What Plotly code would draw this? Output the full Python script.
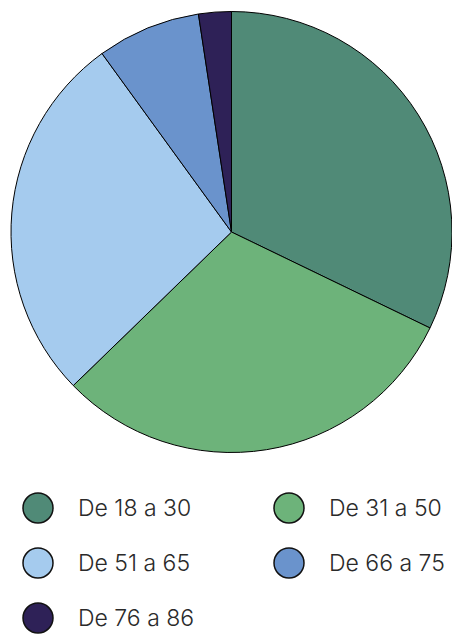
import plotly.graph_objects as go

labels = ["De 18 a 30", "De 31 a 50", "De 51 a 65", "De 66 a 75", "De 76 a 86"]
values = [32.2, 30.6, 27.3, 7.6, 2.4]
colors = ["#508a77", "#6db37a", "#a5cbee", "#6a93cc", "#2e2157"]

W, H = 452, 634

fig = go.Figure()
fig.add_trace(go.Pie(
    labels=labels, values=values, sort=False, direction="clockwise", rotation=0,
    marker=dict(colors=colors, line=dict(color="#000000", width=1)),
    textinfo="none", hoverinfo="label+percent", showlegend=False,
    domain=dict(x=[11 / W, 1.0], y=[1 - 453 / H, 1 - 11 / H]),
))

# custom legend: 2 columns, circle markers
col_x = [38, 289]
row_y = [508, 563, 618]
r = 15
shapes = []
annotations = []
for i, (lab, col) in enumerate(zip(labels, colors)):
    cx = col_x[i % 2]
    cy = row_y[i // 2]
    shapes.append(dict(type="circle", xref="paper", yref="paper",
                       x0=(cx - r) / W, x1=(cx + r) / W,
                       y0=1 - (cy + r) / H, y1=1 - (cy - r) / H,
                       fillcolor=col, line=dict(color="#111111", width=1.5)))
    annotations.append(dict(text=lab, xref="paper", yref="paper",
                            x=(cx + 38) / W, y=1 - cy / H,
                            xanchor="left", yanchor="middle", showarrow=False,
                            font=dict(family="Inter", size=23, weight=300, color="#2a2a2a")))

fig.update_layout(
    width=W, height=H, margin=dict(l=0, r=0, t=0, b=0),
    paper_bgcolor="white", plot_bgcolor="white",
    shapes=shapes, annotations=annotations,
)
fig.write_html("out.html", config={"displayModeBar": False},
               post_script="document.body.style.margin='0';")
